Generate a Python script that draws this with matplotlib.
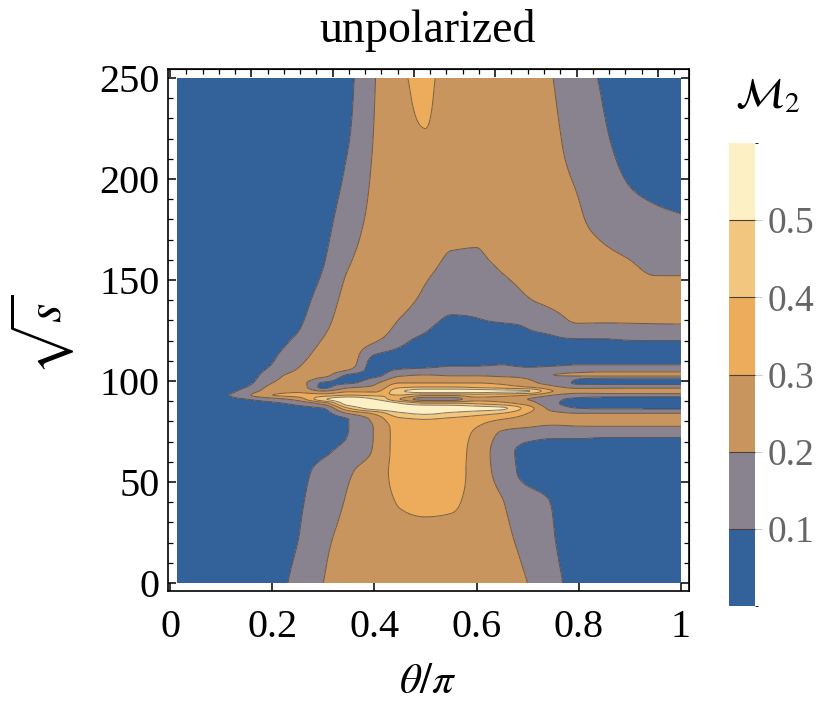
import matplotlib
matplotlib.use("Agg")
import matplotlib.pyplot as plt
from matplotlib.colors import ListedColormap, BoundaryNorm
from matplotlib.ticker import MultipleLocator
import numpy as np

plt.rcParams['font.family'] = ['Liberation Serif', 'DejaVu Serif']
plt.rcParams['mathtext.fontset'] = 'stix'

# grid: theta/pi (columns) and sqrt(s) (rows)
theta_nodes = [0.015, 0.1, 0.15, 0.2, 0.25, 0.3, 0.35, 0.4, 0.45, 0.5,
               0.55, 0.6, 0.65, 0.7, 0.75, 0.8, 0.85, 0.9, 0.95, 1.0]
sqrt_s_nodes = [0, 20, 40, 55, 65, 72, 77, 81, 84, 86.5, 89, 91, 93, 95, 97, 99,
                101, 103, 105.5, 108, 113, 119, 124, 130, 140, 150, 160, 170,
                185, 200, 225, 250]

# M2 estimated along each theta column (bottom -> top)
m2_columns = [
    [0.0] * 32,
    [0.03, 0.03, 0.03, 0.025, 0.022, 0.02, 0.02, 0.022, 0.025, 0.03, 0.04, 0.06, 0.07, 0.05, 0.04, 0.035,
     0.03, 0.028, 0.025, 0.022, 0.02, 0.02, 0.02, 0.018, 0.017, 0.016, 0.015, 0.015, 0.014, 0.013, 0.012, 0.01],
    [0.045, 0.043, 0.04, 0.037, 0.033, 0.03, 0.03, 0.032, 0.035, 0.04, 0.06, 0.1, 0.18, 0.14, 0.1, 0.075,
     0.06, 0.05, 0.045, 0.04, 0.035, 0.03, 0.028, 0.026, 0.024, 0.022, 0.02, 0.02, 0.019, 0.018, 0.017, 0.016],
    [0.075, 0.07, 0.062, 0.055, 0.05, 0.045, 0.045, 0.045, 0.05, 0.06, 0.085, 0.16, 0.3, 0.25, 0.225, 0.2,
     0.18, 0.16, 0.125, 0.103, 0.085, 0.065, 0.055, 0.05, 0.045, 0.04, 0.037, 0.035, 0.032, 0.03, 0.028, 0.026],
    [0.12, 0.1, 0.087, 0.075, 0.062, 0.052, 0.05, 0.05, 0.058, 0.075, 0.13, 0.24, 0.33, 0.28, 0.255, 0.245,
     0.235, 0.225, 0.205, 0.19, 0.16, 0.125, 0.1, 0.085, 0.072, 0.064, 0.058, 0.054, 0.05, 0.047, 0.044, 0.042],
    [0.2, 0.185, 0.155, 0.13, 0.085, 0.062, 0.056, 0.056, 0.07, 0.1, 0.25, 0.48, 0.35, 0.2, 0.08, 0.09,
     0.17, 0.23, 0.245, 0.24, 0.23, 0.21, 0.19, 0.165, 0.135, 0.11, 0.095, 0.085, 0.075, 0.068, 0.062, 0.058],
    [0.235, 0.225, 0.21, 0.19, 0.14, 0.105, 0.1, 0.1, 0.21, 0.4, 0.56, 0.58, 0.4, 0.28, 0.18, 0.09,
     0.06, 0.09, 0.2, 0.235, 0.25, 0.255, 0.255, 0.25, 0.235, 0.215, 0.19, 0.165, 0.135, 0.115, 0.095, 0.085],
    [0.26, 0.258, 0.255, 0.245, 0.21, 0.205, 0.205, 0.23, 0.32, 0.55, 0.6, 0.5, 0.38, 0.28, 0.22, 0.18,
     0.12, 0.07, 0.06, 0.06, 0.1, 0.2, 0.24, 0.255, 0.26, 0.255, 0.25, 0.24, 0.225, 0.215, 0.203, 0.195],
    [0.275, 0.278, 0.305, 0.33, 0.335, 0.335, 0.34, 0.38, 0.48, 0.58, 0.5, 0.3, 0.4, 0.48, 0.38, 0.3,
     0.24, 0.18, 0.11, 0.05, 0.07, 0.12, 0.16, 0.195, 0.23, 0.25, 0.26, 0.265, 0.265, 0.27, 0.29, 0.295],
    [0.28, 0.28, 0.315, 0.335, 0.34, 0.35, 0.36, 0.4, 0.52, 0.6, 0.4, 0.15, 0.32, 0.56, 0.4, 0.3,
     0.25, 0.2, 0.13, 0.06, 0.04, 0.06, 0.1, 0.14, 0.18, 0.205, 0.235, 0.25, 0.26, 0.275, 0.3, 0.305],
    [0.275, 0.278, 0.31, 0.33, 0.33, 0.335, 0.34, 0.38, 0.48, 0.58, 0.4, 0.15, 0.32, 0.56, 0.4, 0.3,
     0.24, 0.19, 0.14, 0.09, 0.04, 0.03, 0.04, 0.085, 0.13, 0.155, 0.19, 0.21, 0.235, 0.25, 0.28, 0.285],
    [0.26, 0.265, 0.27, 0.265, 0.27, 0.28, 0.3, 0.35, 0.44, 0.55, 0.38, 0.27, 0.36, 0.55, 0.38, 0.3,
     0.24, 0.19, 0.14, 0.09, 0.045, 0.03, 0.035, 0.095, 0.12, 0.14, 0.19, 0.205, 0.225, 0.24, 0.27, 0.27],
    [0.235, 0.222, 0.205, 0.155, 0.14, 0.17, 0.22, 0.3, 0.4, 0.52, 0.33, 0.25, 0.34, 0.53, 0.35, 0.28,
     0.23, 0.18, 0.14, 0.1, 0.06, 0.04, 0.05, 0.11, 0.15, 0.19, 0.215, 0.23, 0.245, 0.255, 0.25, 0.25],
    [0.2, 0.175, 0.14, 0.075, 0.075, 0.12, 0.2, 0.26, 0.3, 0.35, 0.25, 0.2, 0.3, 0.51, 0.3, 0.22,
     0.2, 0.18, 0.13, 0.08, 0.05, 0.05, 0.09, 0.12, 0.195, 0.215, 0.225, 0.235, 0.245, 0.245, 0.23, 0.225],
    [0.12, 0.105, 0.095, 0.06, 0.06, 0.105, 0.18, 0.24, 0.22, 0.16, 0.12, 0.12, 0.2, 0.3, 0.22, 0.17,
     0.17, 0.2, 0.14, 0.09, 0.05, 0.08, 0.11, 0.17, 0.215, 0.225, 0.235, 0.24, 0.235, 0.22, 0.21, 0.2],
    [0.075, 0.065, 0.055, 0.05, 0.06, 0.105, 0.19, 0.24, 0.2, 0.1, 0.06, 0.08, 0.15, 0.24, 0.17, 0.085,
     0.1, 0.22, 0.16, 0.1, 0.05, 0.08, 0.14, 0.21, 0.23, 0.235, 0.23, 0.22, 0.205, 0.19, 0.16, 0.135],
    [0.05, 0.045, 0.04, 0.04, 0.06, 0.1, 0.19, 0.25, 0.2, 0.09, 0.05, 0.06, 0.15, 0.25, 0.17, 0.08,
     0.085, 0.23, 0.17, 0.1, 0.05, 0.085, 0.13, 0.21, 0.235, 0.225, 0.215, 0.195, 0.15, 0.13, 0.105, 0.09],
    [0.03, 0.028, 0.027, 0.03, 0.055, 0.1, 0.19, 0.25, 0.2, 0.09, 0.045, 0.055, 0.15, 0.26, 0.17, 0.08,
     0.08, 0.23, 0.17, 0.1, 0.05, 0.09, 0.14, 0.21, 0.23, 0.215, 0.2, 0.17, 0.12, 0.095, 0.07, 0.06],
    [0.01, 0.012, 0.015, 0.02, 0.05, 0.1, 0.19, 0.25, 0.2, 0.085, 0.04, 0.05, 0.15, 0.26, 0.17, 0.08,
     0.08, 0.23, 0.17, 0.1, 0.05, 0.09, 0.15, 0.21, 0.225, 0.205, 0.18, 0.15, 0.105, 0.08, 0.05, 0.04],
    [0.0, 0.005, 0.01, 0.02, 0.05, 0.1, 0.19, 0.25, 0.2, 0.085, 0.04, 0.05, 0.15, 0.26, 0.17, 0.08,
     0.08, 0.23, 0.17, 0.1, 0.05, 0.09, 0.15, 0.21, 0.215, 0.205, 0.17, 0.14, 0.095, 0.07, 0.04, 0.02],
]

levels = [0.0, 0.1, 0.2, 0.3, 0.4, 0.5, 0.6]
level_colors = ['#33629b', '#88838f', '#c8955f', '#ecac5b', '#f3c67f', '#fdf0c4']
cbar_ticks = [0.1, 0.2, 0.3, 0.4, 0.5]


def pchip(x, y, xn):
    # monotone cubic along axis 0, only used to draw smooth contour edges
    x = np.asarray(x, float)
    y = np.asarray(y, float)
    h = np.diff(x)
    d = np.diff(y, axis=0) / h[:, None]
    m = np.zeros_like(y)
    m[0], m[-1] = d[0], d[-1]
    w1 = (2 * h[1:] + h[:-1])[:, None]
    w2 = (h[1:] + 2 * h[:-1])[:, None]
    dl, dr = d[:-1], d[1:]
    with np.errstate(divide='ignore', invalid='ignore'):
        hm = (w1 + w2) / (w1 / dl + w2 / dr)
    m[1:-1] = np.where(dl * dr > 0, hm, 0.0)
    k = np.clip(np.searchsorted(x, xn) - 1, 0, len(x) - 2)
    t = ((xn - x[k]) / h[k])[:, None]
    hk = h[k][:, None]
    return ((2 * t**3 - 3 * t**2 + 1) * y[k] + (t**3 - 2 * t**2 + t) * hk * m[k]
            + (-2 * t**3 + 3 * t**2) * y[k + 1] + (t**3 - t**2) * hk * m[k + 1])


Z = np.array(m2_columns).T
th_f = np.linspace(theta_nodes[0], theta_nodes[-1], 400)
s_f = np.linspace(sqrt_s_nodes[0], sqrt_s_nodes[-1], 900)
Zf = pchip(sqrt_s_nodes, Z, s_f)
Zf = np.clip(pchip(theta_nodes, Zf.T, th_f).T, 0.0, 0.599)

cmap = ListedColormap(level_colors)
norm = BoundaryNorm(levels, cmap.N)

fig = plt.figure(figsize=(8.33, 7.09), dpi=100)
ax = fig.add_axes([168 / 833, 1 - 591 / 709, 521 / 833, 522 / 709])

cf = ax.contourf(th_f, s_f, Zf, levels=levels, cmap=cmap, norm=norm)
ax.contour(th_f, s_f, Zf, levels=levels[1:-1], colors='#4a4038',
           linewidths=0.7, alpha=0.7)

ax.set_xlim(-0.004, 1.016)
ax.set_ylim(-4.0, 254.5)

ax.set_xticks([0, 0.2, 0.4, 0.6, 0.8, 1.0])
ax.set_xticklabels(['0', '0.2', '0.4', '0.6', '0.8', '1'])
ax.set_yticks([0, 50, 100, 150, 200, 250])
ax.yaxis.set_minor_locator(MultipleLocator(10))
ax.tick_params(axis='both', which='major', direction='in', length=6, width=1.1,
               labelsize=29, top=False, right=False)
ax.tick_params(axis='x', which='major', pad=13)
ax.tick_params(axis='y', which='major', pad=6)
ax.tick_params(axis='y', which='minor', direction='in', length=3.5, width=0.9)
for sp in ax.spines.values():
    sp.set_linewidth(1.2)

# top frame ticks in radians, right frame ticks mirror the left
top = ax.secondary_xaxis('top', functions=(lambda t: t * np.pi, lambda r: r / np.pi))
top.set_xticks(np.arange(0, 3.01, 0.5))
top.xaxis.set_minor_locator(MultipleLocator(0.1))
top.tick_params(which='major', direction='in', length=6, width=1.1, labeltop=False)
top.tick_params(which='minor', direction='in', length=3.5, width=0.9)
right = ax.secondary_yaxis('right')
right.set_yticks([0, 50, 100, 150, 200, 250])
right.yaxis.set_minor_locator(MultipleLocator(10))
right.tick_params(which='major', direction='in', length=6, width=1.1, labelright=False)
right.tick_params(which='minor', direction='in', length=3.5, width=0.9)

fig.text(428 / 833, 1 - 30 / 709, 'unpolarized', ha='center', va='center', fontsize=33)
fig.text(428 / 833, 1 - 683 / 709, r'$\theta/\pi$', ha='center', va='center', fontsize=31)
fig.text(42 / 833, 1 - 335 / 709, r'$\sqrt{s}$', ha='center', va='center', fontsize=36,
         rotation=90)

cax = fig.add_axes([729 / 833, 1 - 606 / 709, 26 / 833, 463 / 709])
cb = fig.colorbar(cf, cax=cax, ticks=cbar_ticks, drawedges=True)
cb.outline.set_visible(False)
cb.dividers.set_color('#4a4038')
cb.dividers.set_linewidth(0.8)
cb.ax.set_yticklabels(['0.1', '0.2', '0.3', '0.4', '0.5'])
cb.ax.tick_params(length=5, width=0.8, color='#cccccc', labelsize=27,
                  labelcolor='#666666', pad=4)
fig.text(768 / 833, 1 - 97 / 709, r'$\mathcal{M}_2$', ha='center', va='center', fontsize=30)

fig.savefig('out.png', dpi=100)
